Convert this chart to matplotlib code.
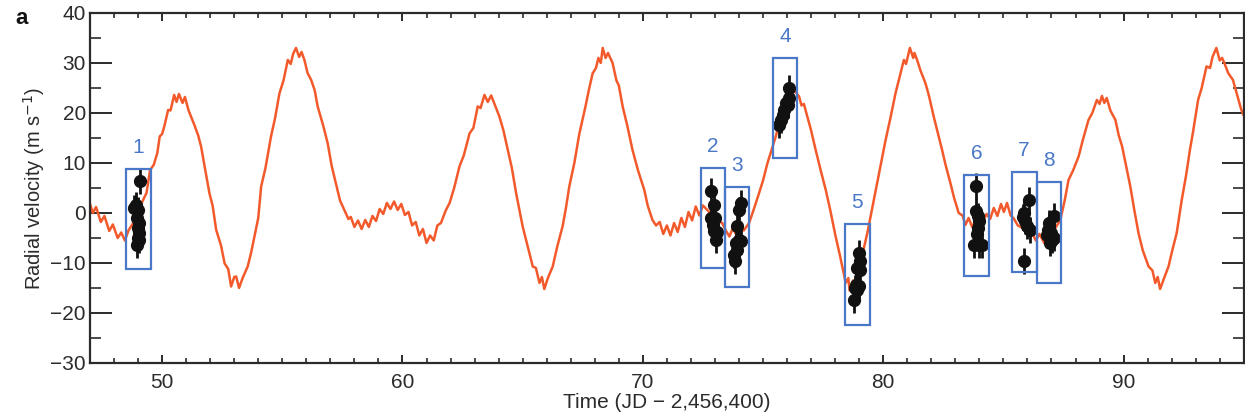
import matplotlib
matplotlib.use("Agg")
import matplotlib.pyplot as plt
from matplotlib.patches import Rectangle
from matplotlib.ticker import MultipleLocator

plt.rcParams['font.family'] = ['Liberation Sans', 'DejaVu Sans']

# ---- model curve ----
curve_t = [47.0, 47.12, 47.25, 47.45, 47.6, 47.8, 47.95, 48.15, 48.3, 48.45, 48.6, 48.8, 49.0, 49.2,
           49.35, 49.5, 49.65, 49.8, 49.9, 50.0, 50.1, 50.25, 50.35, 50.5, 50.6, 50.7, 50.85, 50.95,
           51.1, 51.2, 51.35, 51.5, 51.62, 51.8, 51.97, 52.1, 52.25, 52.45, 52.6, 52.75, 52.87, 53.0,
           53.08, 53.2, 53.35, 53.56, 53.7, 53.84, 54.0, 54.12, 54.3, 54.53, 54.7, 54.88, 55.05, 55.23,
           55.35, 55.45, 55.57, 55.7, 55.8, 55.92, 56.05, 56.2, 56.35, 56.47, 56.7, 56.89, 57.05, 57.23,
           57.4, 57.58, 57.75, 57.85, 58.0, 58.15, 58.3, 58.45, 58.6, 58.75, 58.9, 59.05, 59.2, 59.35,
           59.5, 59.65, 59.8, 59.95, 60.1, 60.25, 60.4, 60.55, 60.7, 60.85, 61.0, 61.15, 61.3, 61.45,
           61.6, 61.8, 61.96, 62.15, 62.37, 62.55, 62.79, 62.95, 63.13, 63.25, 63.41, 63.55, 63.69, 63.85,
           64.03, 64.2, 64.38, 64.55, 64.73, 64.85, 65.0, 65.2, 65.42, 65.55, 65.7, 65.8, 65.9, 66.05,
           66.25, 66.45, 66.66, 66.8, 66.94, 67.15, 67.36, 67.6, 67.75, 67.91, 68.05, 68.15, 68.25, 68.33,
           68.45, 68.55, 68.74, 68.9, 69.0, 69.16, 69.35, 69.57, 69.8, 70.06, 70.2, 70.4, 70.55, 70.7,
           70.85, 71.0, 71.15, 71.3, 71.45, 71.6, 71.75, 71.9, 72.05, 72.2, 72.35, 72.5, 72.7, 72.9,
           73.1, 73.3, 73.45, 73.6, 73.75, 73.9, 74.05, 74.2, 74.42, 74.6, 74.83, 75.0, 75.18, 75.35,
           75.53, 75.7, 75.9, 76.1, 76.3, 76.5, 76.6, 76.7, 76.84, 77.0, 77.19, 77.4, 77.61, 77.8,
           78.02, 78.2, 78.44, 78.55, 78.6, 78.75, 78.9, 79.1, 79.34, 79.61, 79.85, 80.1, 80.3, 80.51,
           80.7, 80.86, 80.95, 81.11, 81.25, 81.3, 81.41, 81.55, 81.76, 81.9, 82.1, 82.3, 82.45, 82.6,
           82.8, 82.95, 83.14, 83.3, 83.42, 83.55, 83.7, 83.9, 84.1, 84.3, 84.45, 84.6, 84.75, 84.9,
           85.02, 85.15, 85.3, 85.43, 85.6, 85.8, 86.0, 86.2, 86.35, 86.5, 86.7, 86.9, 87.1, 87.37,
           87.55, 87.71, 87.9, 88.13, 88.3, 88.54, 88.7, 88.89, 89.0, 89.1, 89.2, 89.3, 89.45, 89.66,
           89.8, 89.94, 90.1, 90.28, 90.45, 90.62, 90.8, 91.04, 91.2, 91.32, 91.42, 91.52, 91.65, 91.87,
           92.0, 92.21, 92.42, 92.6, 92.76, 92.9, 93.1, 93.25, 93.45, 93.6, 93.7, 93.86, 94.0, 94.1,
           94.2, 94.35, 94.55, 94.7, 94.9, 95.0]
curve_v = [1.8, 0.0, 1.2, -1.8, -0.6, -3.6, -2.3, -5.0, -3.9, -5.5, -3.5, -2.0, 0.5, 2.5,
           4.0, 8.6, 9.6, 12.0, 15.3, 15.8, 17.5, 20.6, 20.5, 23.6, 22.2, 23.8, 22.0, 23.2,
           20.5, 19.3, 17.5, 15.5, 13.3, 8.5, 3.9, 1.5, -3.4, -6.5, -10.1, -11.2, -14.7, -12.8,
           -12.7, -15.0, -13.0, -10.7, -8.0, -4.7, -1.0, 5.3, 9.0, 15.3, 19.0, 23.9, 26.5, 30.6,
           29.8, 31.8, 33.0, 31.2, 32.2, 30.6, 28.0, 26.6, 24.5, 21.3, 17.5, 13.9, 9.5, 5.9,
           2.5, 0.6, -1.2, -0.8, -2.8, -1.5, -3.2, -1.4, -2.8, -0.6, -1.6, 0.8, -0.2, 2.0,
           0.8, 2.3, 0.6, 1.8, -0.4, 0.2, -2.5, -1.8, -4.5, -3.2, -6.0, -4.5, -5.5, -2.5,
           -2.0, 0.5, 2.0, 5.0, 9.3, 11.5, 15.9, 17.0, 21.3, 21.0, 23.6, 22.2, 23.5, 21.5,
           19.3, 16.5, 12.6, 9.0, 3.9, 1.0, -2.7, -6.5, -10.7, -11.0, -14.0, -12.8, -15.2, -13.0,
           -10.7, -6.5, -2.7, 1.0, 5.3, 10.0, 15.9, 21.0, 24.5, 27.9, 29.0, 31.0, 30.0, 33.0,
           31.0, 32.0, 30.0, 26.5, 25.5, 21.3, 17.5, 12.6, 8.5, 4.6, 1.5, -1.4, -2.5, -1.8,
           -4.2, -2.5, -4.5, -2.0, -3.8, -1.0, -2.8, 0.2, -1.5, 1.3, -0.5, 1.5, 0.5, -0.5,
           -1.5, -2.0, -3.5, -4.7, -3.0, -4.5, -2.5, -3.5, -2.0, 0.5, 3.9, 6.5, 9.9, 12.5,
           15.3, 18.5, 21.5, 23.5, 24.5, 23.3, 21.5, 21.8, 19.3, 16.5, 12.6, 8.5, 4.6, 0.5,
           -4.7, -8.5, -14.0, -13.0, -15.5, -13.5, -14.5, -9.0, -4.0, 2.6, 8.5, 14.6, 19.0, 23.9,
           27.5, 30.6, 29.8, 33.0, 31.0, 32.0, 30.6, 28.5, 25.9, 23.5, 19.3, 15.5, 12.6, 9.5,
           5.9, 3.0, 0.0, -0.5, -2.4, -1.0, -2.8, -1.0, -2.2, -0.2, -1.2, 1.0, -0.6, 1.8,
           0.2, 2.0, -0.5, -1.1, -2.5, -3.0, -4.5, -4.0, -5.5, -4.2, -6.0, -4.5, -3.5, -1.4,
           2.5, 6.6, 8.5, 11.3, 14.5, 18.6, 20.0, 22.6, 21.8, 23.4, 22.0, 23.0, 20.5, 18.6,
           15.5, 13.3, 9.5, 5.3, 0.5, -4.0, -7.5, -10.7, -11.5, -14.0, -12.8, -15.2, -13.5, -10.7,
           -8.0, -4.0, 2.6, 7.5, 12.6, 16.5, 22.6, 25.0, 29.3, 29.0, 31.2, 33.0, 30.5, 31.0,
           29.9, 28.0, 26.6, 24.0, 20.6, 19.5]

# ---- measurements ----
obs_t = [48.85, 48.9, 49.0, 48.95, 49.05, 49.0, 49.05, 49.0, 49.05, 48.95, 49.08,
         72.83, 72.97, 72.83, 73.0, 72.9, 72.97, 73.1, 73.03,
         74.07, 73.98, 73.93, 74.0, 73.87, 73.93, 73.79, 73.84, 74.1,
         76.08, 76.08, 76.03, 75.87, 75.82, 75.73, 75.67, 75.95,
         78.99, 79.05, 78.92, 79.05, 78.85, 78.99, 78.92, 78.78, 78.82,
         83.88, 83.84, 83.95, 84.0, 83.95, 83.9, 83.77, 84.0, 84.1,
         86.05, 85.85, 85.8, 85.9, 85.98, 86.12, 85.85,
         87.09, 86.88, 86.85, 86.98, 86.8, 87.03, 86.93, 87.09]
obs_v = [1.0, 1.5, 0.5, -1.0, -2.0, -3.0, -4.0, -5.0, -5.5, -6.4, 6.3,
         4.3, 1.6, -1.1, -1.0, -2.4, -3.7, -3.8, -5.4,
         1.9, 0.5, -2.7, -5.4, -6.0, -7.4, -8.4, -9.7, -5.7,
         24.9, 22.9, 21.6, 20.6, 19.6, 18.6, 17.6, 22.0,
         -8.1, -9.7, -11.1, -11.4, -14.4, -14.7, -15.4, -17.4, -15.0,
         5.3, 0.3, -0.7, -1.7, -3.1, -4.2, -6.4, -6.4, -6.4,
         2.6, 0.0, -0.9, -1.7, -2.7, -3.4, -9.7,
         -0.7, -2.0, -3.4, -4.0, -4.4, -5.4, -6.0, -5.0]
obs_err = 2.6

# ---- highlighted windows ----
box_labels = ['1', '2', '3', '4', '5', '6', '7', '8']
box_t0 = [48.49, 72.42, 73.42, 75.41, 78.40, 83.38, 85.35, 86.38]
box_t1 = [49.53, 73.42, 74.43, 76.42, 79.43, 84.41, 86.38, 87.39]
box_v0 = [-11.3, -11.0, -14.8, 11.0, -22.5, -12.6, -11.9, -14.0]
box_v1 = [8.8, 9.0, 5.2, 31.0, -2.2, 7.5, 8.1, 6.1]

red = '#f25a2c'
blue = '#4a78c8'
dark = '#2b2b2b'

fig = plt.figure(figsize=(12.45, 4.17), dpi=100)
ax = fig.add_axes([0.0723, 0.1295, 0.9267, 0.8395])

ax.plot(curve_t, curve_v, color=red, lw=1.8, zorder=2)

ax.errorbar(obs_t, obs_v, yerr=obs_err, fmt='o', color='#111111', ms=8.5,
            elinewidth=2.0, capsize=0, zorder=4)

for lab, t0, t1, v0, v1 in zip(box_labels, box_t0, box_t1, box_v0, box_v1):
    ax.add_patch(Rectangle((t0, v0), t1 - t0, v1 - v0, fill=False,
                           edgecolor=blue, lw=1.6, zorder=5))
    ax.text((t0 + t1) / 2, v1 + 4.3, lab, color=blue, fontsize=15,
            ha='center', va='center')

ax.set_xlim(47, 95)
ax.set_ylim(-30, 40)
ax.xaxis.set_major_locator(MultipleLocator(10))
ax.xaxis.set_minor_locator(MultipleLocator(1))
ax.yaxis.set_major_locator(MultipleLocator(10))
ax.yaxis.set_minor_locator(MultipleLocator(5))
ax.tick_params(axis='x', which='major', direction='in', length=6, width=1.4,
               top=True, bottom=True, labelsize=15, colors=dark, pad=7)
ax.tick_params(axis='x', which='minor', direction='in', length=3.5, width=1.2,
               top=True, bottom=True, colors=dark)
ax.tick_params(axis='y', which='major', direction='in', length=16, width=1.4,
               left=True, right=True, labelsize=15, colors=dark, pad=3)
ax.tick_params(axis='y', which='minor', direction='in', length=8, width=1.2,
               left=True, right=True, colors=dark)
for s in ax.spines.values():
    s.set_color(dark)
    s.set_linewidth(1.6)

ax.set_xlabel('Time (JD \u2212 2,456,400)', fontsize=15, color=dark, labelpad=1)
ax.set_ylabel('Radial velocity (m s$^{-1}$)', fontsize=14.5, color=dark, labelpad=2)
fig.text(0.012, 0.955, 'a', fontsize=16, fontweight='bold', color='#111111',
         ha='left', va='center')

fig.savefig('out.png', dpi=100)
